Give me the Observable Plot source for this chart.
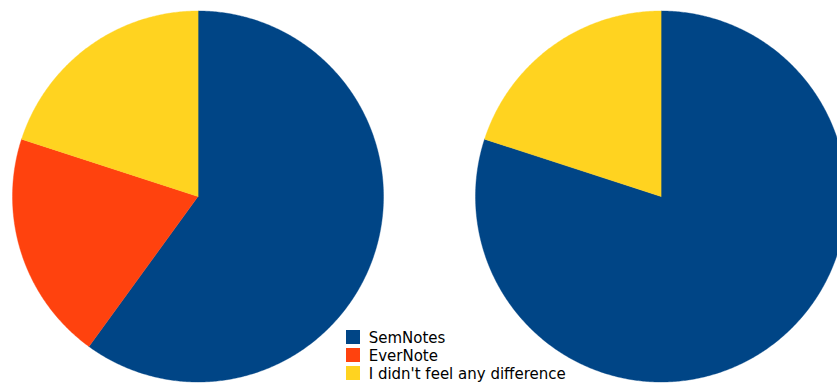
<!DOCTYPE html>
<html><head><meta charset="utf-8">
<script src="https://cdn.jsdelivr.net/npm/d3@7"></script>
<script src="https://cdn.jsdelivr.net/npm/@observablehq/plot@0.6"></script>
<style>
html,body{margin:0;padding:0;background:#fff;overflow:hidden;}
#wrap{position:relative;width:837px;height:383px;overflow:hidden;background:#fff;}
#wrap svg{position:absolute;left:0;top:0;max-width:none;}
.lg-row{position:absolute;height:18px;line-height:18px;font-family:"DejaVu Sans",sans-serif;font-size:15px;color:#000;white-space:nowrap;}
.lg-sw{position:absolute;left:0;top:1.5px;width:14px;height:14px;}
.lg-tx{position:absolute;left:22.7px;top:0;}
</style></head><body>
<div id="wrap"></div>
<script>
// ---- data ----
const answers = ["SemNotes", "EverNote", "I didn't feel any difference"];
const questions = ["Q1", "Q2"];
const countsQ1 = [3, 1, 1];
const countsQ2 = [4, 0, 1];
const colors = ["#004586", "#ff420e", "#ffd320"];

// ---- build slice polygons from the counts ----
const countsByQuestion = {Q1: countsQ1, Q2: countsQ2};
const pts = [];
for (const q of questions) {
  const rows = answers.map((a, i) => ({answer: a, count: countsByQuestion[q][i]}));
  const arcs = d3.pie().sort(null).value(d => d.count)(rows);
  for (const arc of arcs) {
    if (arc.endAngle <= arc.startAngle) continue;
    const key = q + "|" + arc.data.answer;
    pts.push({q, key, answer: arc.data.answer, x: 0, y: 0});
    const n = Math.max(2, Math.ceil((arc.endAngle - arc.startAngle) / (Math.PI / 360)));
    for (let k = 0; k <= n; k++) {
      const a = arc.startAngle + (arc.endAngle - arc.startAngle) * k / n;
      pts.push({q, key, answer: arc.data.answer, x: Math.sin(a), y: Math.cos(a)});
    }
  }
}

const plot = Plot.plot({
  width: 860,
  height: 383,
  marginLeft: 11.5,
  marginRight: 14.5,
  marginTop: 10.5,
  marginBottom: 1.5,
  fx: {domain: questions, paddingInner: 92 / 463, paddingOuter: 0, axis: null, label: null},
  x: {domain: [-1, 1], axis: null},
  y: {domain: [-1, 1], axis: null},
  color: {domain: answers, range: colors},
  marks: [
    Plot.line(pts, {
      fx: "q", x: "x", y: "y", z: "key",
      fill: "answer", stroke: "answer", strokeWidth: 0.4,
      curve: "linear-closed"
    })
  ]
});
plot.style.maxWidth = "none";
const wrap = document.getElementById("wrap");
wrap.appendChild(plot);

// ---- legend ----
const cs = plot.scale("color");
cs.domain.forEach((name, i) => {
  const row = document.createElement("div");
  row.className = "lg-row";
  row.style.left = "346px";
  row.style.top = (328.5 + 18 * i) + "px";
  const sw = document.createElement("span");
  sw.className = "lg-sw";
  sw.style.background = cs.range[i];
  const tx = document.createElement("span");
  tx.className = "lg-tx";
  tx.textContent = name;
  row.appendChild(sw);
  row.appendChild(tx);
  wrap.appendChild(row);
});
</script>
</body></html>
